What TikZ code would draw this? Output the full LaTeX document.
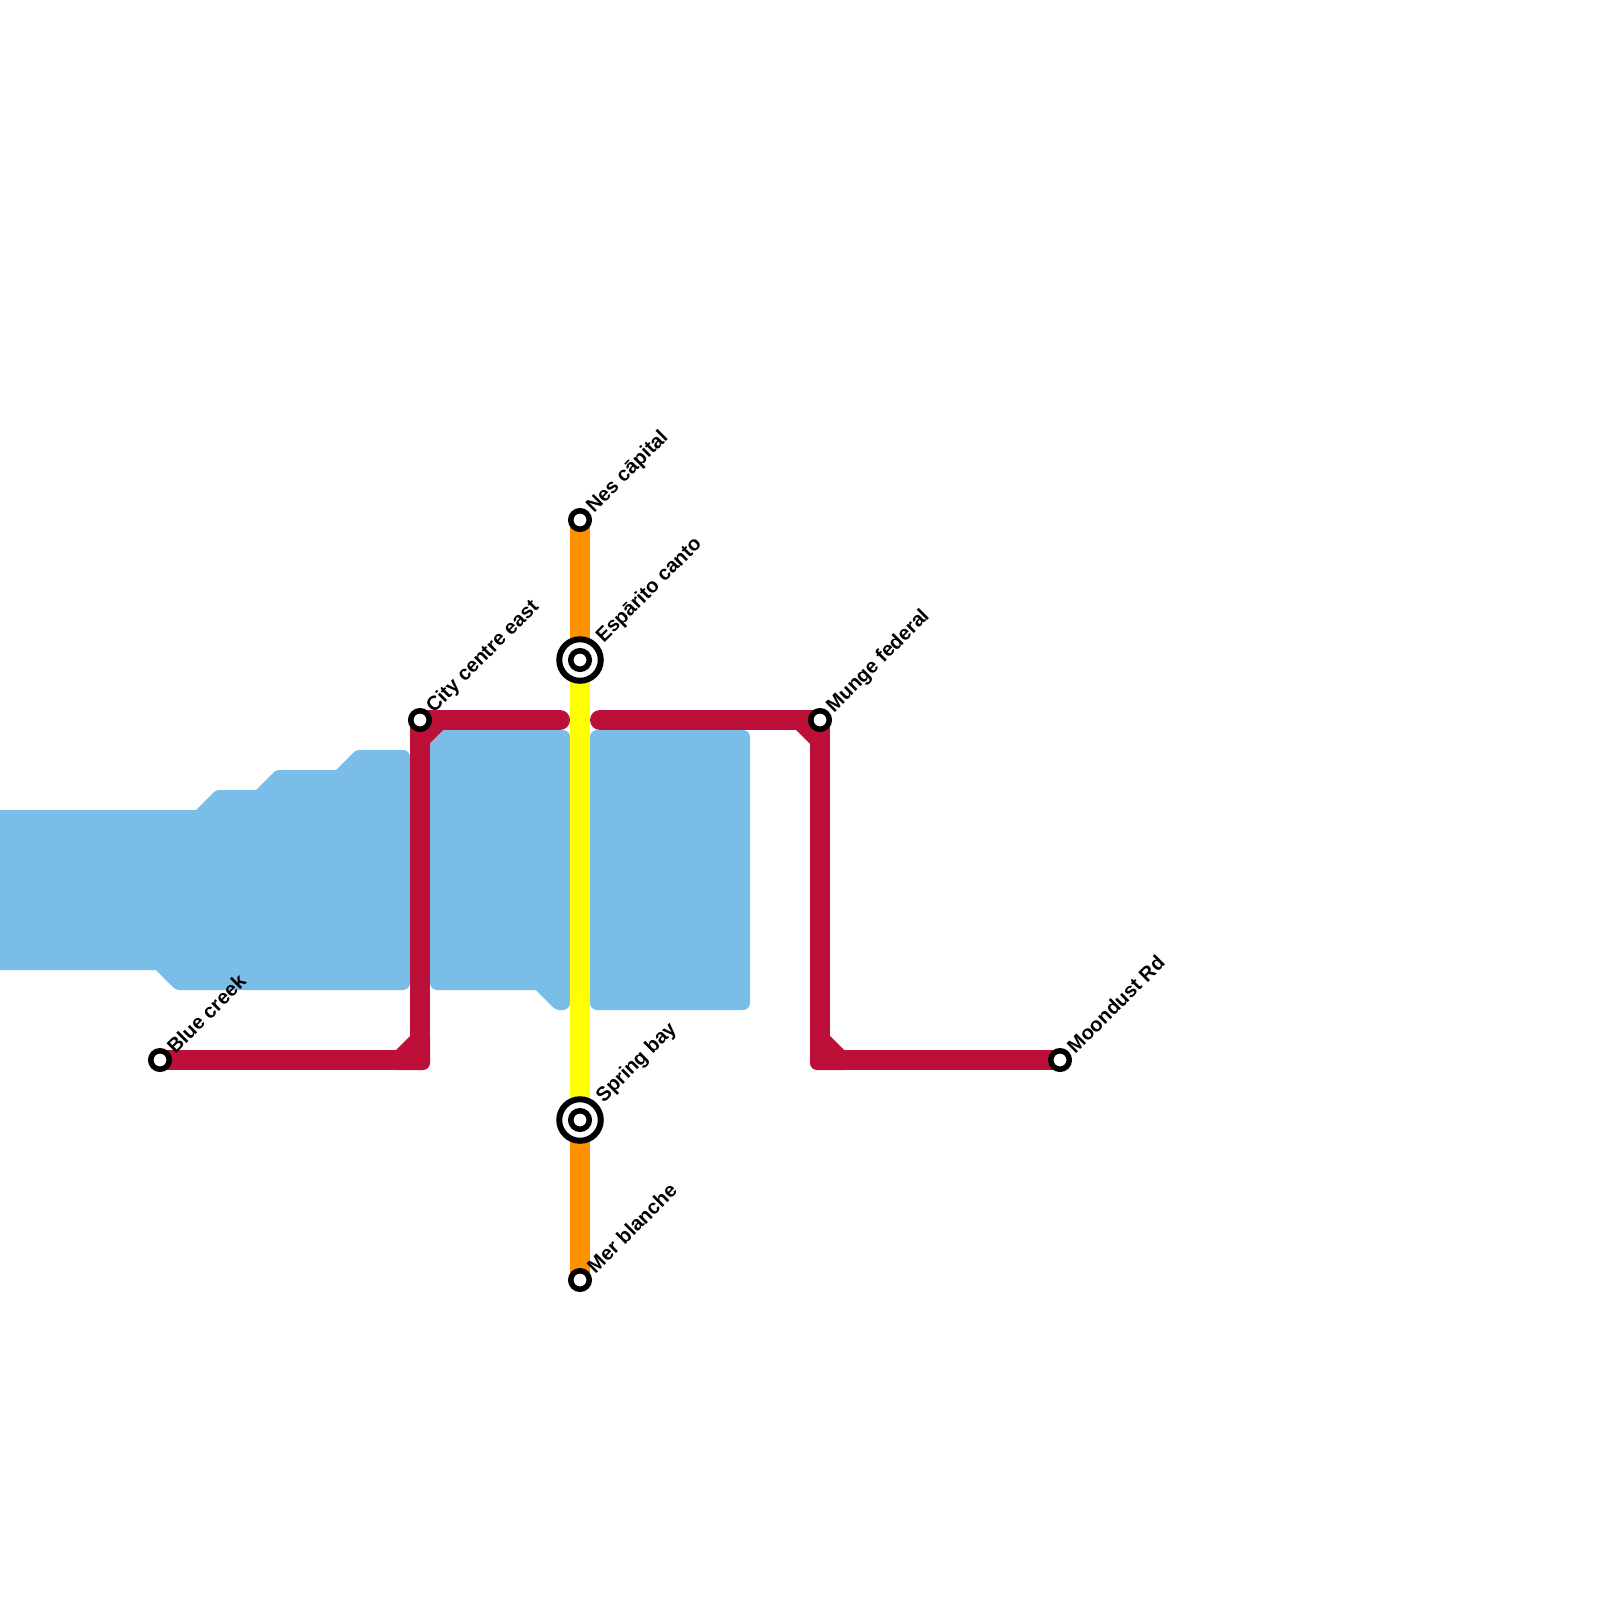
\documentclass[tikz,border=0pt]{standalone}
\usepackage{fontspec}
\usetikzlibrary{backgrounds}
\setmainfont{Liberation Sans}
\definecolor{waterblue}{HTML}{79BDE8}
\definecolor{lineRed}{HTML}{BC1038}
\definecolor{lineOrange}{HTML}{FF9100}
\definecolor{lineYellow}{HTML}{FFFF00}
\tikzset{
  water/.style={fill=waterblue},
  softc/.style={rounded corners=0.3mm},
  roundc/.style={rounded corners=0.7mm},
  track/.style={line width=2mm},
  redtrack/.style={track, draw=lineRed, line cap=round, line join=round},
  turnfill/.style={fill=lineRed},
  stn/.style={circle, draw=black, fill=white, line width=0.55mm, minimum size=1.85mm, inner sep=0pt},
  hub/.style={circle, draw=black, fill=white, line width=0.6mm, minimum size=4.15mm, inner sep=0pt},
  stnname/.style={rotate=45, anchor=west, inner sep=0pt, inner xsep=0.2mm, font=\fontsize{5.7pt}{6pt}\selectfont\bfseries},
  hubname/.style={stnname, inner xsep=0.42mm}
}
\begin{document}
\begin{tikzpicture}[x=0.01cm, y=-0.01cm]
    \useasboundingbox (0,0) rectangle (1600,1600);

    % stations
    \node[stn] (blue) at (160,1060) {};
    \node[stn] (city) at (420,720) {};
    \node[stn] (nes) at (580,520) {};
    \node[hub] (espirito) at (580,660) {};
    \node[stn] (espiritoin) at (580,660) {};
    \node[hub] (spring) at (580,1120) {};
    \node[stn] (springin) at (580,1120) {};
    \node[stn] (mer) at (580,1280) {};
    \node[stn] (munge) at (820,720) {};
    \node[stn] (moon) at (1060,1060) {};

    \node[stnname] (bluename) at (blue.45) {Blue creek};
    \node[stnname] (cityname) at (city.45) {City centre east};
    \node[stnname] (nesname) at (nes.45) {Nes cāpital};
    \node[hubname] (espname) at (espirito.45) {Espārito canto};
    \node[hubname] (springname) at (spring.45) {Spring bay};
    \node[stnname] (mername) at (mer.45) {Mer blanche};
    \node[stnname] (mungename) at (munge.45) {Munge federal};
    \node[stnname] (moonname) at (moon.45) {Moondust Rd};

    % turning points of the red line
    \coordinate (bluecorner) at (420,1060);
    \coordinate (cityend) at (560,720);
    \coordinate (mungestart) at (600,720);
    \coordinate (mooncorner) at (820,1060);

    \begin{pgfonlayer}{background}
    \fill[white] (0,0) rectangle (1600,1600);

    % water blocks
    \fill[water] (-20,810) -- (196,810) [softc] -- (216,790) [sharp corners] -- (256,790) [softc] -- (276,770)
        [sharp corners] -- (336,770) [softc] -- (356,750) [roundc] -- (410,750) -- (410,990) [softc] -- (176,990)
        [sharp corners] -- (156,970) -- (-20,970) -- cycle;
    \fill[water] (430,730) [roundc] -- (570,730) -- (570,1010) [softc] -- (556,1010) [sharp corners] -- (536,990)
        [roundc] -- (430,990) [sharp corners] -- cycle;
    \fill[water, roundc] (590,730) rectangle (750,1010);

    % red line
    \draw[redtrack] (blue.center) -- (bluecorner) -- (city.center) -- (cityend);
    \draw[redtrack] (mungestart) -- (munge.center) -- (mooncorner) -- (moon.center);
    \fill[turnfill] (396,1050) -- (410,1036) -- (430,1036) [roundc] -- (430,1070) [sharp corners] -- (396,1070) -- cycle;
    \fill[turnfill] (430,730) -- (443,730) -- (430,743) -- cycle;
    \fill[turnfill] (796,730) -- (810,730) -- (810,744) -- cycle;
    \fill[turnfill] (844,1050) -- (830,1036) -- (810,1036) [roundc] -- (810,1070) [sharp corners] -- (844,1070) -- cycle;

    % north-south line
    \draw[track, lineOrange] (nes.center) -- (espirito.center);
    \draw[track, lineYellow] (espirito.center) -- (spring.center);
    \draw[track, lineOrange] (spring.center) -- (mer.center);
    \end{pgfonlayer}
\end{tikzpicture}
\end{document}
